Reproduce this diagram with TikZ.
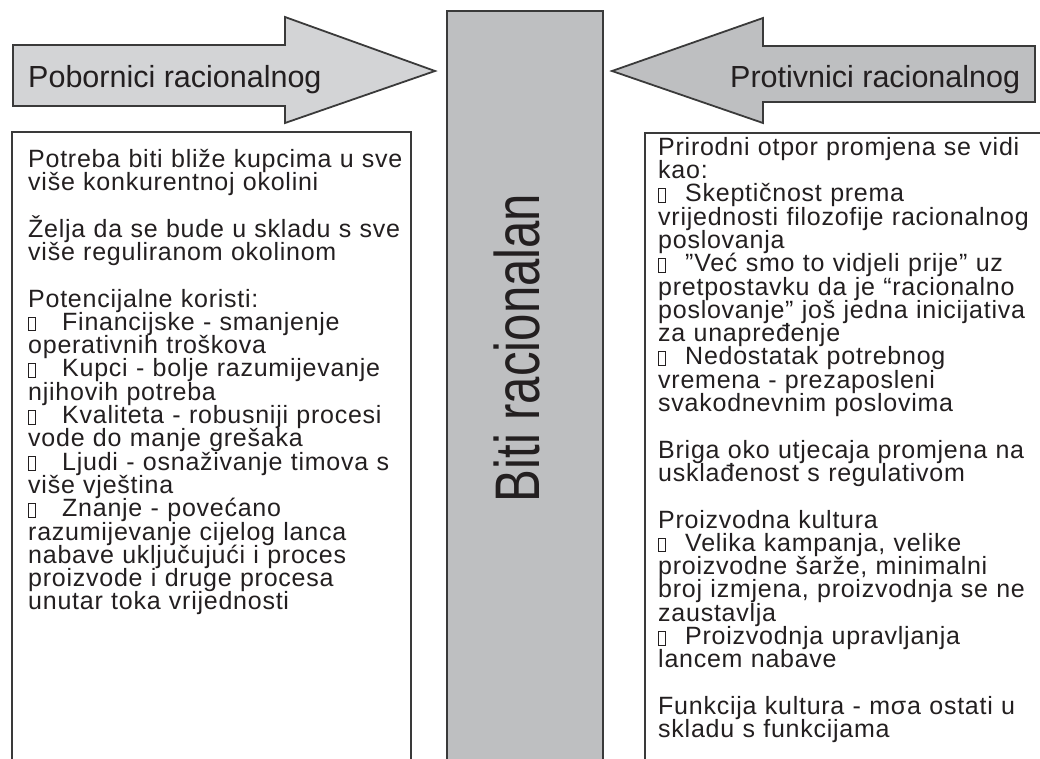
\documentclass[tikz,border=0pt]{standalone}
\usepackage{fontspec}
\setmainfont{Liberation Sans}
\newfontfamily\bodyfont[LetterSpace=3]{Liberation Sans}
\usepackage{graphicx}
\definecolor{edge}{HTML}{3A3A3A}
\definecolor{lightfill}{HTML}{D3D4D6}
\definecolor{darkfill}{HTML}{BEBFC1}
\definecolor{txt}{HTML}{231F20}
\newcommand\bul[1]{\makebox[#1][l]{\setlength\fboxsep{0pt}\setlength\fboxrule{0.8pt}\fbox{\rule{0pt}{13pt}\hspace{6pt}}}}
\newcommand\tightlines{\lineskiplimit=-50pt\lineskip=0pt\relax}
\tikzset{
  shapeline/.style={draw=edge, line width=1.8pt, line join=miter},
  body/.style={anchor=north west, inner sep=0pt, text width=520pt, align=left, text=txt,
    font=\bodyfont\fontsize{25}{23.3}\selectfont, execute at begin node=\tightlines},
  title/.style={anchor=base west, inner sep=0pt, text=txt, font=\fontsize{30.5}{32}\selectfont},
}
\begin{document}
\begin{tikzpicture}[x=1pt,y=-1pt]
\useasboundingbox (0,0) rectangle (1040,758);
\clip (0,0) rectangle (1040,758);
% arrows
\draw[shapeline, fill=lightfill] (13,45) -- (285,45) -- (285,17) -- (435,71) -- (285,123) -- (285,106) -- (13,106) -- cycle;
\draw[shapeline, fill=darkfill] (1035,46) -- (763,46) -- (763,18) -- (612,71) -- (763,123) -- (763,102) -- (1035,102) -- cycle;
\node[title] (pro) at (28,87) {Pobornici racionalnog};
\node[title] (contra) at (730,87) {Protivnici racionalnog};
% central bar
\draw[shapeline, fill=darkfill] (447,780) -- (447,11) -- (603,11) -- (603,780);
\node[rotate=90, anchor=base, inner sep=0pt, text=txt, font=\fontsize{63}{63}\selectfont] (bar) at (539,348) {\scalebox{0.78}[1]{Biti racionalan}};
% boxes
\draw[shapeline, fill=white] (12,780) -- (12,132) -- (411,132) -- (411,780);
\draw[shapeline, fill=white] (645,780) -- (645,133) -- (1060,133);
\node[body] (left) at (28,147) {\rule{0pt}{20pt}Potreba biti bliže kupcima u sve\\
više konkurentnoj okolini\\
\mbox{}\\
Želja da se bude u skladu s sve\\
više reguliranom okolinom\\
\mbox{}\\
Potencijalne koristi:\\
\bul{34pt}Financijske - smanjenje\\
operativnih troškova\\
\bul{34pt}Kupci - bolje razumijevanje\\
njihovih potreba\\
\bul{34pt}Kvaliteta - robusniji procesi\\
vode do manje grešaka\\
\bul{34pt}Ljudi - osnaživanje timova s\\
više vještina\\
\bul{34pt}Znanje - povećano\\
razumijevanje cijelog lanca\\
nabave uključujući i proces\\
proizvode i druge procesa\\
unutar toka vrijednosti};
\node[body] (right) at (658,135) {\rule{0pt}{20pt}Prirodni otpor promjena se vidi\\
kao:\\
\bul{27pt}Skeptičnost prema\\
vrijednosti filozofije racionalnog\\
poslovanja\\
\bul{27pt}”Već smo to vidjeli prije” uz\\
pretpostavku da je “racionalno\\
poslovanje” još jedna inicijativa\\
za unapređenje\\
\bul{27pt}Nedostatak potrebnog\\
vremena - prezaposleni\\
svakodnevnim poslovima\\
\mbox{}\\
Briga oko utjecaja promjena na\\
usklađenost s regulativom\\
\mbox{}\\
Proizvodna kultura\\
\bul{27pt}Velika kampanja, velike\\
proizvodne šarže, minimalni\\
broj izmjena, proizvodnja se ne\\
zaustavlja\\
\bul{27pt}Proizvodnja upravljanja\\
lancem nabave\\
\mbox{}\\
Funkcija kultura - mσa ostati u\\
skladu s funkcijama};
\end{tikzpicture}
\end{document}
